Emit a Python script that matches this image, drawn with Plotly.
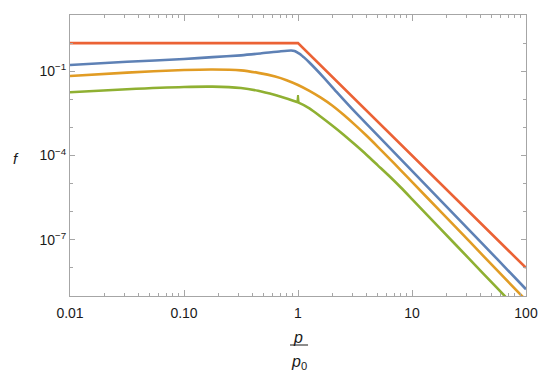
import plotly.graph_objects as go

# ---- data (p / p0 , f) ----
red_p = [0.01, 1.0, 100.0]
red_f = [1.0, 1.0, 1e-8]

blue_p = [0.01, 0.0316, 0.1, 0.178, 0.316, 0.468, 0.708, 0.871, 0.933, 1.0, 1.072,
          1.122, 1.259, 1.66, 2.239, 3.162, 5.623, 10.0, 17.78, 31.62, 56.23, 100.0]
blue_f = [0.166, 0.216, 0.272, 0.316, 0.367, 0.427, 0.513, 0.543, 0.525, 0.447, 0.372,
          0.316, 0.204, 0.0631, 0.0162, 0.00355, 3.16e-4, 2.82e-5, 2.51e-6, 2.24e-7, 2.0e-8, 1.74e-9]

curve_p = [0.01, 0.0316, 0.1, 0.178, 0.316, 0.447, 0.631, 0.794, 1.0, 1.259, 1.585,
           1.995, 2.512, 3.162, 3.981, 5.012, 6.31, 7.943, 10.0, 17.78, 31.62, 56.23, 100.0]

orange_f = [0.0676, 0.0891, 0.110, 0.115, 0.107, 0.0871, 0.0646, 0.0479, 0.0324, 0.0200, 0.01148,
            0.00603, 0.00282, 0.00123, 5.13e-4, 2.04e-4, 7.94e-5, 3.02e-5, 1.15e-5, 1.02e-6,
            9.12e-8, 7.94e-9, 7.08e-10]

green_f = [0.0178, 0.0229, 0.0275, 0.0282, 0.0251, 0.0200, 0.0141, 0.0107, 0.00776, 0.00479, 0.00240,
           0.00117, 5.50e-4, 2.45e-4, 1.07e-4, 4.47e-5, 1.86e-5, 7.41e-6, 2.82e-6, 2.45e-7,
           2.14e-8, 1.86e-9, 1.62e-10]

# small cusp of the green curve at p = p0
green_spike_p = [0.986, 1.0, 1.014]
green_spike_f = [0.00794, 0.0141, 0.00741]

x_tickvals = [0.01, 0.1, 1, 10, 100]
x_ticktext = ["0.01", "0.10", "1", "10", "100"]
y_tickvals = [1e-1, 1e-4, 1e-7]
y_ticktext = ["10<sup>\u22121</sup>", "10<sup>\u22124</sup>", "10<sup>\u22127</sup>"]

x_minor = [m * 10.0 ** k for k in (-2, -1, 0, 1) for m in range(2, 10)]
y_minor = [10.0 ** k for k in range(-9, 2) if k not in (-1, -4, -7)]

BLUE, ORANGE, GREEN, RED = "#5E81B5", "#E19C24", "#8FB032", "#EB6235"
FRAME = "#a6a6a6"
TXT = "#1a1a1a"
FONT = "Liberation Sans, Arial, sans-serif"
LW = 2.6

fig = go.Figure()
fig.add_trace(go.Scatter(x=blue_p, y=blue_f, mode="lines",
                         line=dict(color=BLUE, width=LW, shape="spline", smoothing=0.6),
                         showlegend=False, hoverinfo="skip"))
fig.add_trace(go.Scatter(x=curve_p, y=orange_f, mode="lines",
                         line=dict(color=ORANGE, width=LW, shape="spline", smoothing=0.8),
                         showlegend=False, hoverinfo="skip"))
fig.add_trace(go.Scatter(x=curve_p, y=green_f, mode="lines",
                         line=dict(color=GREEN, width=LW, shape="spline", smoothing=0.8),
                         showlegend=False, hoverinfo="skip"))
fig.add_trace(go.Scatter(x=green_spike_p, y=green_spike_f, mode="lines",
                         line=dict(color=GREEN, width=2.0),
                         showlegend=False, hoverinfo="skip"))
fig.add_trace(go.Scatter(x=red_p, y=red_f, mode="lines",
                         line=dict(color=RED, width=LW),
                         showlegend=False, hoverinfo="skip"))

# the page body has an 8px margin, so the figure is shrunk by 8px and shifted
fig.update_layout(
    width=542, height=376,
    margin=dict(l=62, r=24, t=7, b=88),
    paper_bgcolor="white", plot_bgcolor="white",
    font=dict(family=FONT, size=14, color=TXT),
)

fig.update_xaxes(
    type="log", range=[-2, 2], showgrid=False, zeroline=False,
    showline=True, linecolor=FRAME, linewidth=1, mirror="ticks",
    ticks="inside", ticklen=6, tickwidth=1, tickcolor=FRAME,
    tickmode="array", tickvals=x_tickvals, ticktext=x_ticktext,
    ticklabelstandoff=4,
    minor=dict(tickmode="array", tickvals=x_minor, ticks="inside", ticklen=3,
               tickcolor=FRAME, tickwidth=1, showgrid=False),
)
fig.update_yaxes(
    type="log", range=[-9, 1], showgrid=False, zeroline=False,
    showline=True, linecolor=FRAME, linewidth=1, mirror="ticks",
    ticks="inside", ticklen=5, tickwidth=1, tickcolor=FRAME,
    tickmode="array", tickvals=y_tickvals, ticktext=y_ticktext,
    minor=dict(tickmode="array", tickvals=y_minor, ticks="inside", ticklen=3,
               tickcolor=FRAME, tickwidth=1, showgrid=False),
)

# axis labels (Mathematica-style)
fig.add_annotation(text="<i>f</i>", xref="paper", yref="paper", x=-0.118, y=0.491,
                   showarrow=False, font=dict(size=15, color=TXT, family=FONT),
                   xanchor="center", yanchor="middle")
fig.add_annotation(text="<i>p</i>", xref="paper", yref="paper", x=0.5, y=-0.146,
                   showarrow=False, font=dict(size=16, color=TXT, family=FONT),
                   xanchor="center", yanchor="middle")
fig.add_shape(type="line", xref="paper", yref="paper", x0=0.4825, x1=0.522,
              y0=-0.1744, y1=-0.1744, line=dict(color=TXT, width=1))
fig.add_annotation(text="<i>p</i><sub>0</sub>", xref="paper", yref="paper", x=0.503, y=-0.238,
                   showarrow=False, font=dict(size=16, color=TXT, family=FONT),
                   xanchor="center", yanchor="middle")

fig.write_html("out.html")
